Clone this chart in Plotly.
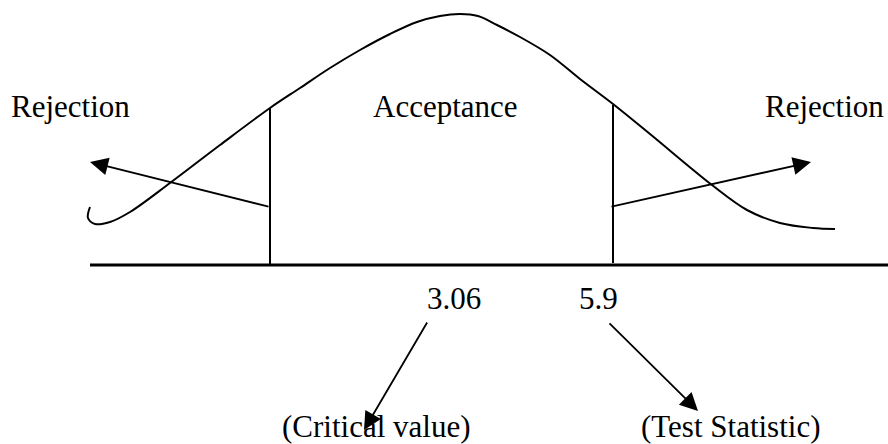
import plotly.graph_objects as go

# Curve (hand-drawn bell shape) points, in picture coordinates (x right, y down)
curve_x = [90, 88, 95, 110, 130, 170, 220, 270, 300, 330, 360, 390, 417, 440, 460, 478, 497, 520, 550, 580, 613, 650, 712, 747, 780, 813, 835]
curve_y = [207, 218, 224, 222, 212, 183, 145, 108, 88, 68, 50, 34, 22, 16, 14, 16, 25, 37, 55, 79, 104, 134, 185, 210, 223, 228, 229]

# Baseline
base_x = [90, 888]
base_y = [265, 265]

# Boundary lines
left_x = [270, 270]
left_y = [108, 265]
right_x = [613, 613]
right_y = [105, 263]

# Arrows: (tail_x, tail_y, tip_x, tip_y)
arrows = [
    (270, 207, 90, 162),
    (610, 207, 811, 162),
    (428, 321, 364, 430),
    (608, 322, 698, 411),
]

# Labels: (text, x_center, y_center)
labels = [
    ("Rejection", 70, 106),
    ("Acceptance", 445, 106),
    ("Rejection", 824, 106),
    ("3.06", 454, 298),
    ("5.9", 598, 298),
    ("(Critical value)", 376, 426),
    ("(Test Statistic)", 731, 426),
]

fig = go.Figure()
line_style = dict(color="black", width=2)
fig.add_trace(go.Scatter(x=curve_x, y=curve_y, mode="lines",
                         line=dict(color="black", width=2, shape="spline", smoothing=1.0),
                         hoverinfo="skip"))
fig.add_trace(go.Scatter(x=base_x, y=base_y, mode="lines",
                         line=dict(color="black", width=3), hoverinfo="skip"))
fig.add_trace(go.Scatter(x=left_x, y=left_y, mode="lines", line=line_style, hoverinfo="skip"))
fig.add_trace(go.Scatter(x=right_x, y=right_y, mode="lines", line=line_style, hoverinfo="skip"))

for tx, ty, hx, hy in arrows:
    fig.add_annotation(x=hx, y=hy, ax=tx, ay=ty, xref="x", yref="y",
                       axref="x", ayref="y", text="", showarrow=True,
                       arrowhead=2, arrowsize=2.0, arrowwidth=1.8,
                       arrowcolor="black", standoff=0, startstandoff=0)

for text, x, y in labels:
    fig.add_annotation(x=x, y=y, xref="x", yref="y", text=text, showarrow=False,
                       xanchor="center", yanchor="middle",
                       font=dict(family="Liberation Serif, Times New Roman, serif",
                                 size=31, color="black"))

fig.update_layout(
    width=888, height=444,
    margin=dict(l=0, r=0, t=0, b=0),
    paper_bgcolor="white", plot_bgcolor="white",
    showlegend=False,
    xaxis=dict(range=[0, 888], visible=False, fixedrange=True),
    yaxis=dict(range=[444, 0], visible=False, fixedrange=True),
)

fig.write_html("out.html", config={"displayModeBar": False},
               post_script="document.body.style.margin='0';document.body.style.overflow='hidden';")
